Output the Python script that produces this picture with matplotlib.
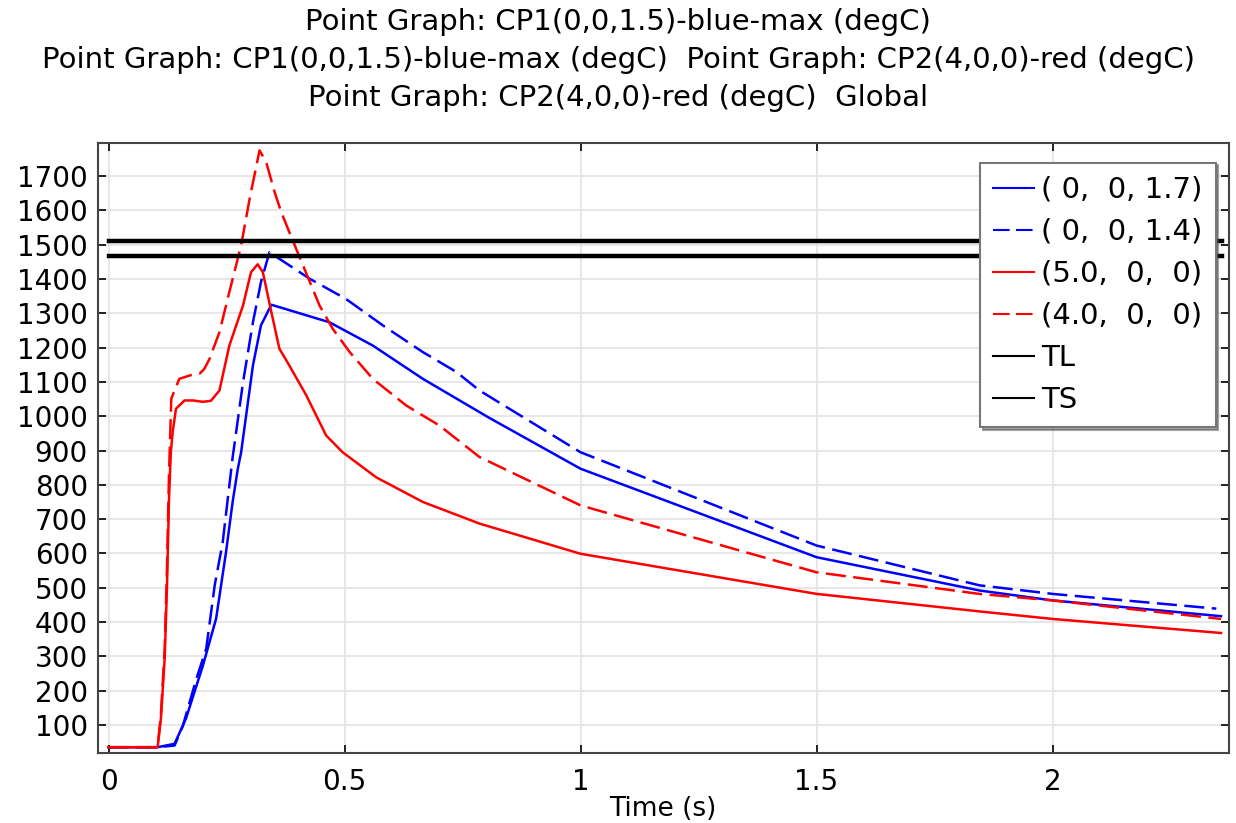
import numpy as np
import matplotlib
matplotlib.use("Agg")
import matplotlib.pyplot as plt

# (0, 0, 1.7) blue solid
t_b17 = [0, 0.104, 0.140, 0.164, 0.200, 0.228, 0.249, 0.263, 0.274, 0.281, 0.306, 0.323, 0.345,
         0.468, 0.560, 0.666, 0.786, 0.807, 1.0, 1.5, 1.845, 2.0, 2.357]
T_b17 = [35, 35, 45, 118, 273, 410, 604, 750, 847, 895, 1148, 1265, 1325,
         1274, 1206, 1109, 1012, 995, 847, 589, 492, 463, 417]

# (0, 0, 1.4) blue dashed
t_b14 = [0, 0.104, 0.140, 0.157, 0.186, 0.207, 0.225, 0.242, 0.256, 0.263, 0.285, 0.306, 0.323, 0.341,
         0.426, 0.503, 0.581, 0.666, 0.737, 0.786, 1.0, 1.5, 1.845, 2.0, 2.347]
T_b14 = [35, 35, 40, 95, 234, 322, 507, 633, 798, 880, 1099, 1274, 1391, 1478,
         1401, 1342, 1265, 1187, 1129, 1075, 895, 623, 507, 482, 439]

# (5.0, 0, 0) red solid
t_r50 = [0, 0.104, 0.111, 0.119, 0.124, 0.128, 0.132, 0.136, 0.143, 0.161, 0.179, 0.200, 0.217, 0.235,
         0.256, 0.285, 0.302, 0.316, 0.327, 0.345, 0.362, 0.383, 0.419, 0.461, 0.496, 0.567, 0.666,
         0.786, 1.0, 1.5, 1.845, 2.0, 2.357]
T_r50 = [35, 35, 118, 293, 507, 750, 895, 954, 1022, 1046, 1046, 1042, 1045, 1075,
         1206, 1323, 1420, 1443, 1420, 1304, 1197, 1148, 1061, 944, 895, 822, 750,
         687, 599, 482, 431, 409, 368]

# (4.0, 0, 0) red dashed
t_r40 = [0, 0.104, 0.111, 0.119, 0.124, 0.128, 0.133, 0.150, 0.175, 0.193, 0.203, 0.214, 0.235, 0.256,
         0.281, 0.299, 0.320, 0.334, 0.352, 0.366, 0.383, 0.412, 0.447, 0.475, 0.511, 0.560, 0.631,
         0.701, 0.786, 1.0, 1.5, 1.845, 2.0, 2.357]
T_r40 = [35, 35, 130, 320, 560, 820, 1051, 1109, 1120, 1124, 1138, 1167, 1245, 1362,
         1498, 1634, 1775, 1741, 1653, 1595, 1537, 1440, 1323, 1255, 1187, 1109, 1031,
         973, 881, 740, 545, 482, 463, 409]

t_lim = [0, 2.358]
TL = 1510
TS = 1468

title_lines = ["Point Graph: CP1(0,0,1.5)-blue-max (degC)",
               "Point Graph: CP1(0,0,1.5)-blue-max (degC)  Point Graph: CP2(4,0,0)-red (degC)",
               "Point Graph: CP2(4,0,0)-red (degC)  Global"]

fig = plt.figure(figsize=(12.36, 8.23), dpi=100)
ax = fig.add_axes([0.079, 0.085, 0.915, 0.741])

ax.plot(t_b17, T_b17, color="#0000ff", lw=1.8, label="( 0,  0, 1.7)")
ax.plot(t_b14, T_b14, color="#0000ff", lw=1.8, dashes=(8, 3), label="( 0,  0, 1.4)")
ax.plot(t_r50, T_r50, color="#ff0000", lw=1.8, label="(5.0,  0,  0)")
ax.plot(t_r40, T_r40, color="#ff0000", lw=1.8, dashes=(8, 3), label="(4.0,  0,  0)")
ax.plot(t_lim, [TL, TL], color="black", lw=3.2, label="TL")
ax.plot(t_lim, [TS, TS], color="black", lw=3.2, label="TS")

ax.set_xlim(-0.023, 2.373)
ax.set_ylim(18, 1796)
ax.set_xticks([0, 0.5, 1, 1.5, 2])
ax.set_xticklabels(["0", "0.5", "1", "1.5", "2"])
ax.set_yticks(np.arange(100, 1800, 100))
ax.grid(True, color="#e3e3e3", lw=1.2)
ax.set_axisbelow(True)
ax.tick_params(direction="in", length=6, width=1.2, top=True, right=True,
               labelsize=20, colors="black")
ax.tick_params(axis="x", pad=10.5)
ax.tick_params(axis="y", pad=7)
for s in ax.spines.values():
    s.set_color("#444444")
    s.set_linewidth(1.5)

ax.set_xlabel("Time (s)", fontsize=19, labelpad=0)

fig.text(0.5, 0.99, "\n".join(title_lines), ha="center", va="top",
         fontsize=21, linespacing=1.45)

leg = ax.legend(loc="upper right", bbox_to_anchor=(0.9885, 0.968), fontsize=21,
                fancybox=False, shadow=True, framealpha=1, edgecolor="#777777",
                handlelength=1.4, handletextpad=0.25, borderpad=0.45, labelspacing=0.48,
                borderaxespad=0)
leg.get_frame().set_linewidth(1.5)
for h in leg.legend_handles:
    h.set_linewidth(1.5)

fig.savefig("out.png", dpi=100)
